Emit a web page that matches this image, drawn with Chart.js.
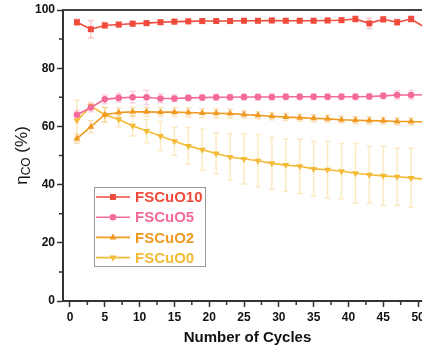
<!DOCTYPE html>
<html>
<head>
<meta charset="utf-8">
<script src="https://cdn.jsdelivr.net/npm/chart.js@4.4.1/dist/chart.umd.min.js"></script>
<style>
  html, body { margin: 0; padding: 0; overflow: hidden; background: #fff; }
  #wrap { width: 440px; height: 351px; }
</style>
</head>
<body>
<div id="wrap"><canvas id="c" width="440" height="351"></canvas></div>
<script>
// cycle numbers (odd cycles, last one sits just past the cropped right edge)
const cycles = [1, 3, 5, 7, 9, 11, 13, 15, 17, 19, 21, 23, 25, 27, 29, 31, 33, 35, 37, 39, 41, 43, 45, 47, 49, 51];

const fscuo10 = [95.8, 93.4, 94.7, 95.0, 95.3, 95.5, 95.8, 96.0, 96.1, 96.2, 96.2, 96.2, 96.3, 96.3, 96.4, 96.3, 96.3, 96.3, 96.4, 96.5, 96.9, 95.4, 96.8, 95.8, 96.9, 94.0];
const fscuo10Err = [1.0, 3.0, 1.0, 0.8, 0.8, 0.8, 0.8, 0.8, 0.8, 0.8, 0.8, 0.8, 0.8, 0.8, 0.8, 0.8, 0.8, 0.8, 0.8, 0.8, 1.0, 1.8, 1.0, 1.0, 1.0, 1.0];

const fscuo5 = [64.0, 66.5, 69.3, 69.8, 70.0, 70.0, 69.6, 69.6, 69.8, 69.9, 70.0, 70.0, 70.1, 70.1, 70.1, 70.2, 70.2, 70.2, 70.2, 70.2, 70.2, 70.3, 70.5, 70.8, 70.8, 70.9];
const fscuo5Err = [1.5, 1.5, 1.5, 1.5, 2.0, 2.5, 1.5, 1.2, 1.0, 1.0, 1.0, 1.0, 1.0, 1.0, 1.0, 1.0, 1.0, 1.0, 1.0, 1.0, 1.0, 1.0, 1.0, 1.5, 1.5, 1.5];

const fscuo2 = [55.8, 59.9, 64.0, 64.8, 65.0, 65.0, 64.9, 64.9, 64.8, 64.6, 64.5, 64.4, 64.1, 63.8, 63.5, 63.2, 63.0, 62.8, 62.6, 62.3, 62.1, 62.0, 61.9, 61.7, 61.7, 61.5];
const fscuo2Err = [1.5, 2.0, 2.5, 1.5, 1.5, 1.5, 1.5, 1.5, 1.5, 1.5, 1.5, 1.5, 1.2, 1.2, 1.2, 1.2, 1.2, 1.2, 1.2, 1.2, 1.2, 1.2, 1.2, 1.2, 1.2, 1.2];

const fscuo0 = [62.0, 67.0, 64.0, 62.4, 60.2, 58.4, 56.7, 54.9, 53.3, 52.0, 50.7, 49.5, 48.8, 48.2, 47.3, 46.7, 46.3, 45.4, 45.1, 44.6, 43.9, 43.4, 43.0, 42.7, 42.3, 41.8];
const fscuo0Err = [7.0, 1.0, 2.5, 2.5, 3.5, 4.0, 5.0, 4.8, 6.3, 7.0, 7.0, 8.0, 8.6, 9.0, 8.9, 9.0, 9.4, 9.5, 9.8, 9.5, 10.2, 9.8, 10.2, 9.8, 10.2, 10.0];

const labels = ['FSCuO10', 'FSCuO5', 'FSCuO2', 'FSCuO0'];
const xTicksMajor = 5;
const yTicksMajor = 20;

function pts(vals) {
    return cycles.map((c, i) => ({ x: c, y: vals[i] }));
}

function series(label, vals, errs, color, errColor, style, rot, r) {
    return {
        label: label,
        data: pts(vals),
        errors: errs,
        errColor: errColor,
        borderColor: color,
        backgroundColor: color,
        borderWidth: 1.6,
        pointStyle: style,
        rotation: rot,
        pointRadius: r,
        pointBorderWidth: 0,
        tension: 0,
        clip: false
    };
}

const datasets = [
    series(labels[0], fscuo10, fscuo10Err, '#ef4a3b', 'rgba(239,74,59,0.3)', 'rect', 0, 4.2),
    series(labels[1], fscuo5, fscuo5Err, '#f46a9b', 'rgba(244,106,155,0.3)', 'circle', 0, 3.3),
    series(labels[2], fscuo2, fscuo2Err, '#f09a22', 'rgba(240,154,34,0.3)', 'triangle', 0, 4.0),
    series(labels[3], fscuo0, fscuo0Err, '#f3bb36', 'rgba(243,187,54,0.3)', 'triangle', 180, 4.0)
];

// error bars under the markers
const errorBars = {
    id: 'errorBars',
    beforeDatasetsDraw(chart) {
        const { ctx, scales: { x, y } } = chart;
        chart.data.datasets.forEach(ds => {
            ctx.save();
            ctx.strokeStyle = ds.errColor;
            ctx.lineWidth = 1.5;
            ds.data.forEach((p, j) => {
                const e = ds.errors[j];
                const px = x.getPixelForValue(p.x);
                const top = y.getPixelForValue(p.y + e);
                const bot = y.getPixelForValue(p.y - e);
                ctx.beginPath();
                ctx.moveTo(px, top); ctx.lineTo(px, bot);
                ctx.moveTo(px - 3, top); ctx.lineTo(px + 3, top);
                ctx.moveTo(px - 3, bot); ctx.lineTo(px + 3, bot);
                ctx.stroke();
            });
            ctx.restore();
        });
    }
};

// frame, minor ticks, y title with subscript, legend box
const decor = {
    id: 'decor',
    afterDraw(chart) {
        const { ctx, chartArea: a, scales: { x, y } } = chart;
        ctx.save();
        ctx.strokeStyle = '#444';
        ctx.lineWidth = 2;
        ctx.beginPath();
        ctx.moveTo(a.left, a.top); ctx.lineTo(a.right, a.top); ctx.lineTo(a.right, a.bottom);
        ctx.stroke();

        // minor ticks
        ctx.strokeStyle = '#333';
        ctx.lineWidth = 1.5;
        ctx.beginPath();
        for (let v = xTicksMajor / 2; v < x.max; v += xTicksMajor) {
            const px = x.getPixelForValue(v);
            ctx.moveTo(px, a.bottom); ctx.lineTo(px, a.bottom + 4);
        }
        for (let v = yTicksMajor / 2; v < y.max; v += yTicksMajor) {
            const py = y.getPixelForValue(v);
            ctx.moveTo(a.left, py); ctx.lineTo(a.left - 4, py);
        }
        ctx.stroke();

        // y axis title: eta_CO (%)
        ctx.translate(22, (a.top + a.bottom) / 2);
        ctx.rotate(-Math.PI / 2);
        ctx.fillStyle = '#111';
        ctx.textBaseline = 'middle';
        const big = '17px "Liberation Sans", Arial, sans-serif';
        const small = '12px "Liberation Sans", Arial, sans-serif';
        ctx.font = big; const w1 = ctx.measureText('η').width;
        ctx.font = small; const w2 = ctx.measureText('CO').width;
        ctx.font = big; const w3 = ctx.measureText(' (%)').width;
        let sx = -(w1 + w2 + w3) / 2;
        ctx.textAlign = 'left';
        ctx.font = big; ctx.fillText('η', sx, 0);
        ctx.font = small; ctx.fillText('CO', sx + w1, 5);
        ctx.font = big; ctx.fillText(' (%)', sx + w1 + w2, 0);
        ctx.setTransform(1, 0, 0, 1, 0, 0);

        // legend
        const lx = a.left + 31, ly = a.top + 177, lw = 111, lh = 79;
        ctx.strokeStyle = '#9a9a9a';
        ctx.lineWidth = 1;
        ctx.strokeRect(lx + 0.5, ly + 0.5, lw, lh);
        ctx.font = 'bold 15px "Liberation Sans", Arial, sans-serif';
        ctx.textBaseline = 'middle';
        chart.data.datasets.forEach((ds, i) => {
            const cy = ly + 10 + i * 20.2;
            ctx.strokeStyle = ds.borderColor;
            ctx.fillStyle = ds.borderColor;
            ctx.lineWidth = 1.6;
            ctx.beginPath();
            ctx.moveTo(lx + 2, cy); ctx.lineTo(lx + 36, cy);
            ctx.stroke();
            Chart.helpers.drawPoint(ctx, {
                pointStyle: ds.pointStyle, rotation: ds.rotation,
                radius: ds.pointRadius, borderWidth: 0
            }, lx + 19, cy);
            ctx.fillText(ds.label, lx + 41, cy + 1);
        });
        ctx.restore();
    }
};

const tickFont = { family: '"Liberation Sans", Arial, sans-serif', size: 12, weight: 'bold' };

new Chart(document.getElementById('c'), {
    type: 'line',
    data: { datasets: datasets },
    options: {
        responsive: false,
        animation: false,
        devicePixelRatio: 1,
        layout: { padding: { left: 0, top: 10, right: 8, bottom: 0 } },
        plugins: { legend: { display: false }, tooltip: { enabled: false } },
        scales: {
            x: {
                type: 'linear',
                min: -1,
                max: 52,
                border: { color: '#333', width: 2 },
                grid: { drawOnChartArea: false, drawTicks: true, tickLength: 6, tickColor: '#333', tickWidth: 1.5 },
                ticks: { stepSize: xTicksMajor, includeBounds: false, font: tickFont, color: '#111', padding: 3, maxRotation: 0 },
                title: { display: true, text: 'Number of Cycles', color: '#111', padding: { top: 4, bottom: 4 },
                    font: { family: '"Liberation Sans", Arial, sans-serif', size: 15, weight: 'bold' } },
                afterFit(scale) { scale.height = 50; }
            },
            y: {
                min: 0,
                max: 100,
                border: { color: '#333', width: 2 },
                grid: { drawOnChartArea: false, drawTicks: true, tickLength: 6, tickColor: '#333', tickWidth: 1.5 },
                ticks: { stepSize: yTicksMajor, includeBounds: false, font: tickFont, color: '#111', padding: 2 },
                afterFit(scale) { scale.width = 63; }
            }
        }
    },
    plugins: [errorBars, decor]
});
</script>
</body>
</html>
